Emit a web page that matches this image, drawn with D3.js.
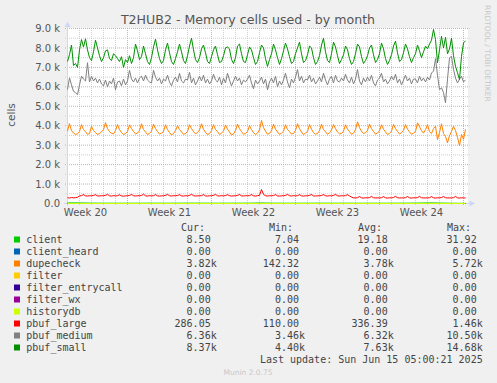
<!DOCTYPE html>
<html><head><meta charset="utf-8">
<script src="https://cdn.jsdelivr.net/npm/d3@7"></script>
<style>
html,body{margin:0;padding:0;background:#f0f0f0;}
svg{display:block;}
</style></head><body><svg id="c" width="497" height="383"></svg>
<script>
// ---------------- DATA ----------------
const chartTitle = "T2HUB2 - Memory cells used - by month";
const yAxisLabel = "cells";
const graphStart = "2025-05-13T00:00:00Z";   // left edge of plot
const graphEnd   = "2025-06-15T08:00:00Z";   // right edge of plot (800 h)
const dataStart  = "2025-05-13T00:00:00Z";
const dataEnd    = "2025-06-15T04:00:00Z";
const yMax = 9000;
const yMajorTicks = [0,1000,2000,3000,4000,5000,6000,7000,8000,9000];
const yTickLabels = ["0.0","1.0 k","2.0 k","3.0 k","4.0 k","5.0 k","6.0 k","7.0 k","8.0 k","9.0 k"];
const yMinorTicks = [500,1500,2500,3500,4500,5500,6500,7500,8500];

const seriesNames  = ["client","client_heard","dupecheck","filter","filter_entrycall","filter_wx","historydb","pbuf_large","pbuf_medium","pbuf_small"];
const seriesColors = ["#00CC00","#0066B3","#FF8000","#FFCC00","#330099","#990099","#CCFF00","#FF0000","#808080","#008F00"];
const legendCur = ["8.50","0.00","3.82k","0.00","0.00","0.00","0.00","286.05","6.36k","8.37k"];
const legendMin = ["7.04","0.00","142.32","0.00","0.00","0.00","0.00","110.00","3.46k","4.40k"];
const legendAvg = ["19.18","0.00","3.78k","0.00","0.00","0.00","0.00","336.39","6.32k","7.63k"];
const legendMax = ["31.92","0.00","5.72k","0.00","0.00","0.00","0.00","1.46k","10.50k","14.68k"];
const lastUpdate = "Last update: Sun Jun 15 05:00:21 2025";
const footer = "Munin 2.0.75";
const sideText = "RRDTOOL / TOBI OETIKER";

// client (daily)
const client = [32,30,18,16,15,14,16,17,15,16,18,17,16,15,17,16,28,17,16,15,16,17,15,16,14,15,16,15,17,20,32,22,12,8.5];
const clientHeard = [0,0];
const dupecheckZero = null;
const filter = [0,0];
const filterEntrycall = [0,0];
const filterWx = [0,0];
const historydb = [0,0];

// 4-hourly samples
const dupecheck = [
3730,4110,3750,3620,3550,3580, 3700,4060,3800,3700,3550,3600, 3970,3750,3650,3550,3600,3680,
3800,4160,3850,3700,3600,3580, 3750,4060,3800,3650,3550,3600, 3700,4050,3850,3700,3580,3620,
3750,4100,3800,3680,3550,3600, 3720,4080,3850,3700,3570,3620, 3700,4050,3800,3650,3520,3600,
3750,4000,3800,3680,3560,3600, 3700,4050,3850,3700,3580,3650, 3780,4100,3820,3660,3540,3600,
3740,4060,3800,3700,3550,3620, 3720,4040,3820,3680,3520,3580, 3750,4080,3850,3700,3560,3600,
3700,4000,3800,3650,3540,3620, 3780,4270,3900,3720,3560,3600, 3740,4080,3820,3680,3550,3620,
3720,4050,3800,3700,3570,3600, 3760,4100,3850,3680,3540,3620, 3700,4060,3820,3650,3560,3600,
3750,4080,3800,3700,3550,3640, 3780,4060,3850,3680,3580,3600, 3720,4050,3820,3700,3560,3620,
3800,4200,3900,3720,3600,3640, 3760,4080,3850,3700,3570,3620, 3740,4050,3820,3680,3550,3600,
3720,4070,3850,3700,3580,3640, 3760,4060,3820,3690,3560,3620, 3700,4150,3950,3750,3620,3800,
4050,3700,3600,3850,3970,3290, 3650,4100,3600,3450,3120,3500, 3700,3970,3750,3400,2980,3550,
3300,3820];

const pbufLarge = [
300,280,310,290,300,320, 390,405,460,395,380,400, 395,410,455,390,385,400,
400,420,470,395,380,405, 390,400,450,390,375,395, 395,415,465,400,385,400,
400,410,480,395,380,405, 390,405,460,390,380,395, 395,420,470,400,385,400,
400,410,455,395,380,405, 390,415,475,400,385,395, 395,405,460,390,380,400,
400,420,470,395,385,405, 390,410,455,400,380,395, 395,415,465,390,385,400,
400,405,460,395,380,405, 420,720,470,400,385,400, 395,410,460,390,380,395,
400,415,470,400,385,405, 390,405,455,395,380,400, 395,420,465,390,385,395,
400,410,460,400,380,405, 390,415,470,395,385,400, 395,405,455,390,330,290,
285,300,360,290,280,295, 290,305,365,295,285,290, 285,300,355,290,280,295,
290,310,370,295,285,290, 285,300,360,290,280,295, 290,305,365,295,285,290,
285,300,355,290,280,295, 290,310,360,295,285,290, 285,300,365,290,280,295,
290,286];

const pbufMedium = [
5860,6460,6100,5770,5700,5600, 6100,6550,6400,6300,7240,6250, 6550,6300,6450,6200,6400,6150,
6050,6350,6000,6300,6150,6450, 5850,6250,6300,6050,6400,6100, 6300,6850,6400,6250,6450,6200,
6450,6550,6300,6600,6350,6250, 6200,6850,6500,6300,6450,6150, 6400,6300,6600,6250,6050,6350,
6500,6250,6700,6300,6200,6400, 6350,6750,6200,6450,6100,6300, 6550,6300,6600,6200,6400,6150,
6300,6650,6350,6250,6500,6100, 6450,6200,6700,6350,6050,6300, 6550,6300,6450,6100,6350,6250,
6400,6600,6200,5900,6350,6150, 6300,6500,6150,6400,5850,6250, 6450,6200,6550,6000,6300,6100,
6350,6700,6250,5950,6400,6200, 6500,6890,6300,6550,6200,6400, 6350,6600,6250,6450,6150,6300,
6500,6250,6700,6350,6100,6400, 6550,6200,6600,6300,6250,6450, 6300,6650,6350,6200,6500,6150,
6400,6890,6300,6100,6450,6250, 6500,6300,6600,6200,6050,6350, 6450,6700,6250,6400,6150,6300,
6550,6350,6650,6200,6400,6100, 6350,6600,6300,6450,6150,6400, 6400,6200,6550,6300,6450,6250,
6500,6350,6720,6800,7450,6600, 5860,5950,5700,5180,6400,7490, 7570,6900,6450,6200,6400,6550,
6250,6360];

const pbufSmall = [
7300,7660,8150,7100,7200,7000, 7900,8430,8050,8470,7900,7500, 7350,7800,8400,8000,7600,7300,
7500,7850,7900,7450,7350,7700, 7600,7450,7300,7550,7000,7400, 7250,7600,7200,7500,8200,7850,
7400,7550,8100,7700,7300,7150, 7500,8050,8450,7900,7450,7200, 7350,7900,8250,7750,7300,7150,
7450,7800,8200,7800,7350,7200, 7600,8100,8500,7900,7400,7250, 7500,7950,8150,7750,7300,7200,
7550,7900,8100,7650,7250,7300, 7600,8000,8050,7950,7400,7200, 7500,8100,8200,7700,7300,7250,
7650,8050,7900,7500,7150,7300, 7750,8150,8000,7450,7050,7400, 7700,8200,7900,7500,7150,7450,
7850,8250,7950,7550,7200,7300, 7700,8000,8300,7700,7250,7350, 7650,8100,8000,7500,7150,7300,
7600,8150,8500,7800,7350,7250, 7700,8300,8050,7600,7200,7400, 7650,8100,7900,7450,7150,7300,
7700,8200,8050,7550,7200,7350, 7600,8000,8150,7650,7250,7400, 7700,8250,7950,7450,7150,7350,
7650,8100,8350,7750,7300,7400, 7750,8200,7950,7550,7250,7500, 7700,8150,7850,7500,7800,8090,
7950,8200,8400,8950,8430,7240, 7900,8600,8000,8550,7700,7950, 8500,7600,7060,6720,6380,7570,
8260,8370];

const seriesValues = [client, clientHeard, dupecheck, filter, filterEntrycall, filterWx, historydb, pbufLarge, pbufMedium, pbufSmall];

// ---------------- DRAW ----------------
const svg = d3.select("#c");
const W = 497, H = 383;
svg.append("rect").attr("width", W).attr("height", H).attr("fill", "#f0f0f0");

const t0 = new Date(graphStart), t1 = new Date(graphEnd);
const x = d3.scaleUtc().domain([t0, t1]).range([67.5, 467.5]);
const y = d3.scaleLinear().domain([0, yMax]).range([203.5, 28.5]);

// canvas
svg.append("rect").attr("x", 67).attr("y", 28).attr("width", 401).attr("height", 176).attr("fill", "#ffffff");

const minorCol = "#cfcfcf", majorCol = "#e6a3a3";
const grid = svg.append("g");
// horizontal minor
yMinorTicks.forEach(v => grid.append("line").attr("x1", 65).attr("x2", 469.5)
  .attr("y1", y(v)).attr("y2", y(v)).attr("stroke", minorCol).attr("stroke-dasharray", "1,1"));
// vertical minor (days)
const days = d3.utcDay.range(d3.utcDay.offset(t0, 1), t1);
days.filter(d => d.getUTCDay() !== 0).forEach(d => grid.append("line")
  .attr("x1", x(d)).attr("x2", x(d)).attr("y1", 28).attr("y2", 206)
  .attr("stroke", minorCol).attr("stroke-dasharray", "1,1"));
// horizontal major
yMajorTicks.filter(v => v > 0).forEach(v => grid.append("line").attr("x1", 65).attr("x2", 469.5)
  .attr("y1", y(v)).attr("y2", y(v)).attr("stroke", majorCol).attr("stroke-dasharray", "1,1"));
// vertical major (weeks)
const weeks = d3.utcSunday.range(t0, t1);
weeks.forEach(d => grid.append("line")
  .attr("x1", x(d)).attr("x2", x(d)).attr("y1", 28).attr("y2", 206)
  .attr("stroke", majorCol).attr("stroke-dasharray", "1,1"));

// axes
const axisCol = "#cfd6f8";
svg.append("line").attr("x1", 67.5).attr("x2", 67.5).attr("y1", 206).attr("y2", 25).attr("stroke", axisCol);
svg.append("polygon").attr("points", "64.5,27 70.5,27 67.5,21.5").attr("fill", axisCol);
svg.append("line").attr("x1", 64).attr("x2", 471).attr("y1", 203.5).attr("y2", 203.5).attr("stroke", axisCol);
svg.append("polygon").attr("points", "469.5,200.5 469.5,206.5 475,203.5").attr("fill", axisCol);

// y tick labels
const textCol = "#555555";
yMajorTicks.forEach((v, i) => svg.append("text").attr("x", 60).attr("y", y(v) + 3.6)
  .attr("text-anchor", "end").attr("font-family", "DejaVu Sans").attr("font-size", 10)
  .attr("fill", textCol).text(yTickLabels[i]));

// week labels (centred mid-week)
const fmt = d3.utcFormat("Week %V");
d3.utcSunday.range(d3.utcDay.offset(t0, -7), t1).forEach(d => {
  const mid = new Date(+d + 3.5 * 864e5);
  if (mid < t0 || mid > t1) return;
  svg.append("text").attr("x", x(mid)).attr("y", 216).attr("text-anchor", "middle")
    .attr("font-family", "DejaVu Sans").attr("font-size", 10).attr("fill", textCol).text(fmt(mid));
});

// title
svg.append("text").attr("x", 248).attr("y", 23.5).attr("text-anchor", "middle")
  .attr("font-family", "DejaVu Sans").attr("font-size", 12.6).attr("fill", textCol).text(chartTitle);
// y label
svg.append("text").attr("transform", "translate(15,115) rotate(-90)").attr("text-anchor", "middle")
  .attr("font-family", "DejaVu Sans").attr("font-size", 10.5).attr("fill", textCol).text(yAxisLabel);
// side text
svg.append("text").attr("transform", "translate(485,5) rotate(90)").attr("text-anchor", "start")
  .attr("font-family", "DejaVu Sans").attr("font-size", 7.5).attr("fill", "#c8c8c8").text(sideText);

// series lines
const ds = +new Date(dataStart), de = +new Date(dataEnd);
seriesValues.forEach((vals, si) => {
  const n = vals.length;
  const pts = vals.map((v, i) => [new Date(ds + i * (de - ds) / (n - 1)), v]);
  const line = d3.line().x(d => x(d[0])).y(d => y(d[1]));
  svg.append("path").attr("d", line(pts)).attr("fill", "none")
    .attr("stroke", seriesColors[si]).attr("stroke-width", 1);
});

// legend
const mono = "DejaVu Sans Mono";
const legCol = "#444444";
const hdrY = 227.5 + 3.6;
[["Cur:",181],["Min:",269],["Avg:",358],["Max:",447]].forEach(([t, xx]) =>
  svg.append("text").attr("x", xx).attr("y", hdrY).attr("font-family", mono).attr("font-size", 10)
    .attr("fill", legCol).text(t));
const colRight = [216.7, 305, 393.7, 482.7];
const cols = [legendCur, legendMin, legendAvg, legendMax];
seriesNames.forEach((name, i) => {
  const cy = 239.5 + 12 * i;
  svg.append("rect").attr("x", 14).attr("y", cy - 3).attr("width", 6).attr("height", 6).attr("fill", seriesColors[i]);
  svg.append("text").attr("x", 26.3).attr("y", cy + 3.6).attr("font-family", mono).attr("font-size", 10)
    .attr("fill", legCol).text(name);
  cols.forEach((col, c) => {
    const s = col[i];
    const xr = colRight[c] - (s.endsWith("k") ? 0 : 6.02);
    svg.append("text").attr("x", xr).attr("y", cy + 3.6).attr("text-anchor", "end")
      .attr("font-family", mono).attr("font-size", 10).attr("fill", legCol).text(s);
  });
});
svg.append("text").attr("x", 482.7).attr("y", 359.3 + 3.6).attr("text-anchor", "end")
  .attr("font-family", mono).attr("font-size", 10).attr("fill", legCol).text(lastUpdate);
svg.append("text").attr("x", 248).attr("y", 372 + 2.7).attr("text-anchor", "middle")
  .attr("font-family", "DejaVu Sans").attr("font-size", 7.5).attr("fill", "#c8c8c8").text(footer);
</script></body></html>
